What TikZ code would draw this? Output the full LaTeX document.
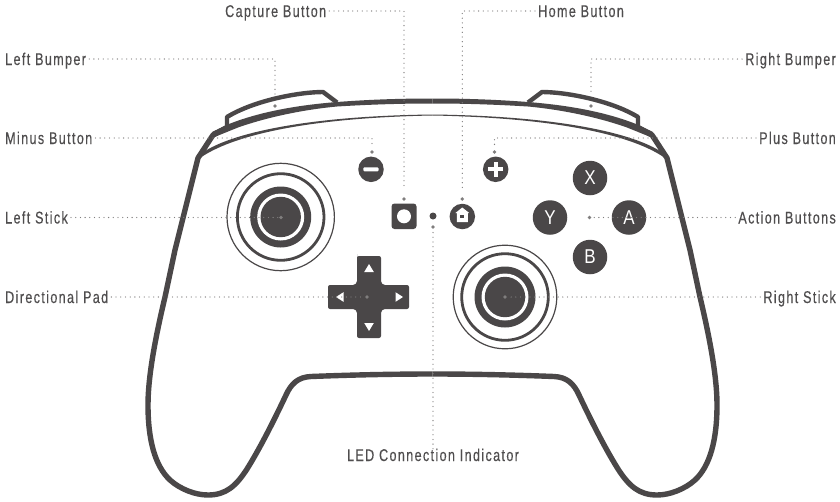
\documentclass[tikz,border=0pt]{standalone}
\usepackage{xcolor}
\usepackage{fontspec}
\setmainfont[FakeStretch=0.74,LetterSpace=8,FakeBold=0.25]{Liberation Sans}
\newfontfamily\btnfont[FakeStretch=0.85]{Liberation Sans}
\definecolor{padgray}{HTML}{4A4748}
\definecolor{dotgray}{HTML}{807E7E}
\definecolor{textgray}{HTML}{4F4D4E}
\usepackage{tikz}

\begin{document}
\begin{tikzpicture}[x=1pt,y=-1pt]
        \tikzstyle{label}=[text=textgray,font=\fontsize{17}{17}\selectfont,inner ysep=0pt,inner xsep=3pt,text height=12pt,text depth=0pt]
        \tikzstyle{leftlabel}=[label,anchor=west]
        \tikzstyle{rightlabel}=[label,anchor=east]
        \tikzstyle{pindot}=[circle,fill=dotgray,inner sep=0pt,minimum size=3.8pt]
        \tikzstyle{leader}=[draw=dotgray,line width=1.3pt,line cap=round,dash pattern=on 0pt off 4.7pt]
        \tikzstyle{abtn}=[circle,fill=padgray,inner sep=0pt,minimum size=34.5pt,text=white,font=\btnfont\fontsize{20}{20}\selectfont]
        \tikzstyle{sbtn}=[circle,fill=padgray,inner sep=0pt,minimum size=25.5pt]

        \useasboundingbox (0,0) rectangle (840,501);
        \fill[white] (0,0) rectangle (840,501);

        \foreach \mirror/\off in {1/0,-1/865} {
            \begin{scope}[shift={(\off,0)},xscale=\mirror]
                \draw[padgray,line width=5.4pt,line join=round]
                    (432.5,374) .. controls (390,374) and (350,375) .. (311,376.5)
                    .. controls (298,377) and (291,384) .. (286,395)
                    .. controls (277,414) and (262,445) .. (247,469)
                    .. controls (236,486) and (226,495) .. (208,495)
                    .. controls (195,495) and (180,489) .. (170,480)
                    .. controls (155,466) and (148,440) .. (148,405)
                    .. controls (148,375) and (156,335) .. (165,297)
                    -- (175,250) -- (198,158) -- (213,135) -- (226,128);
                \fill[padgray] (432.5,98.5) .. controls (400,98.5) and (370,99.5) .. (337,102)
                    .. controls (300,105) and (262,111) .. (229,124) -- (212,132) -- (214.5,137)
                    -- (238,127.5) .. controls (265,118) and (300,110) .. (337,106.5)
                    .. controls (370,104.5) and (400,103.5) .. (432.5,103.5) -- cycle;
                \fill[padgray] (200,154.5) .. controls (225,135) and (300,116) .. (432.5,114.5)
                    -- (432.5,115.5) .. controls (300,118) and (230,137) .. (200,158) -- cycle;
                \draw[padgray,line width=4.4pt,line join=round]
                    (337,102.5) -- (323,92) .. controls (300,92) and (255,100) .. (227,117) -- (227,128);
            \end{scope}
        }

        \foreach \cx/\cy/\rout in {280.7/217/53.7,505/297/51.8} {
            \draw[padgray,line width=1.2pt] (\cx,\cy) circle [radius=\rout];
            \draw[padgray,line width=2.8pt] (\cx,\cy) circle [radius=43.3];
            \fill[padgray] (\cx,\cy) circle [radius=30.5];
            \fill[white] (\cx,\cy) circle [radius=23.5];
            \fill[padgray] (\cx,\cy) circle [radius=20.2];
        }

        \fill[padgray] (357,258) [rounded corners=2pt] -- (357,256) -- (381,256) [rounded corners=4pt] -- (381,285) [rounded corners=2pt] -- (409,285) -- (409,309)
            [rounded corners=4pt] -- (381,309) [rounded corners=2pt] -- (381,338) -- (357,338) [rounded corners=4pt] -- (357,309)
            [rounded corners=2pt] -- (328,309) -- (328,285) [rounded corners=4pt] -- (357,285) -- cycle;
        \fill[white] (369,264) -- (373.8,272) -- (364.2,272) -- cycle;
        \fill[white] (369,331) -- (373.8,323) -- (364.2,323) -- cycle;
        \fill[white] (336,297) -- (343.5,292.2) -- (343.5,301.8) -- cycle;
        \fill[white] (403,297) -- (395.5,292.2) -- (395.5,301.8) -- cycle;

        \node[sbtn] (minus) at (371,169.3) {};
        \fill[white,rounded corners=1pt] (363.3,167.3) rectangle (378.5,171.3);
        \node[sbtn] (plus) at (495.7,169.3) {};
        \fill[white] (488.2,167.3) rectangle (503.2,171.3);
        \fill[white] (493.7,161.8) rectangle (497.7,176.8);

        \node[abtn] (X) at (590,178) {X};
        \node[abtn] (Y) at (550,217.5) {Y};
        \node[abtn] (A) at (629,217.5) {A};
        \node[abtn] (B) at (590,257) {B};

        \fill[padgray,rounded corners=3pt] (391.5,203.5) rectangle (416.5,229);
        \fill[white] (404,216.3) circle [radius=7];
        \node[sbtn] (home) at (462.3,216.5) {};
        \fill[white] (462.3,207.5) -- (469.2,213) -- (467.8,213) -- (467.8,222) -- (456.8,222) -- (456.8,213) -- (455.4,213) -- cycle;
        \fill[padgray] (460.3,214.5) rectangle (464.3,217.5);
        \node[circle,fill=padgray,inner sep=0pt,minimum size=7pt] (led) at (433,216) {};

        \node[pindot] (LBp) at (275,106) {};
        \node[pindot] (RBp) at (591,106) {};
        \node[pindot] (MBp) at (372,152) {};
        \node[pindot] (PBp) at (494.5,152) {};
        \node[pindot] (CBp) at (404,199) {};
        \node[pindot] (HBp) at (462.3,199) {};
        \node[pindot] (LSp) at (281,217.5) {};
        \node[pindot] (ABp) at (589.5,217.5) {};
        \node[pindot] (DPp) at (367,297) {};
        \node[pindot] (RSp) at (505,297) {};
        \node[pindot] (LEDp) at (433,227) {};

        \node[leftlabel] (LB) at (2,59) {Left Bumper};
        \node[leftlabel] (MB) at (2,138) {Minus Button};
        \node[leftlabel] (LS) at (2,217.5) {Left Stick};
        \node[leftlabel] (DP) at (2,297) {Directional Pad};
        \node[leftlabel] (CB) at (222,11) {Capture Button};
        \node[leftlabel] (HB) at (535,11) {Home Button};
        \node[rightlabel] (RB) at (839,59) {Right Bumper};
        \node[rightlabel] (PB) at (839,138) {Plus Button};
        \node[rightlabel] (AB) at (839,217.5) {Action Buttons};
        \node[rightlabel] (RS) at (839,297) {Right Stick};
        \node[label,anchor=center] (LED) at (433,455) {LED Connection Indicator};

        \draw[leader,shorten >=9pt] (LB.east) -| (LBp);
        \draw[leader,shorten >=9pt] (RB.west) -| (RBp);
        \draw[leader,shorten >=5pt] (MB.east) -| (MBp);
        \draw[leader,shorten >=5pt] (PB.west) -| (PBp);
        \draw[leader,shorten >=7pt] (CB.east) -| (CBp);
        \draw[leader,shorten >=7pt] (HB.west) -| (HBp);
        \path (LS) edge[leader] (LSp);
        \path (AB) edge[leader] (ABp);
        \path (DP) edge[leader] (DPp);
        \path (RS) edge[leader] (RSp);
        \path (LED) edge[leader] (LEDp);
    \end{tikzpicture}
\end{document}
